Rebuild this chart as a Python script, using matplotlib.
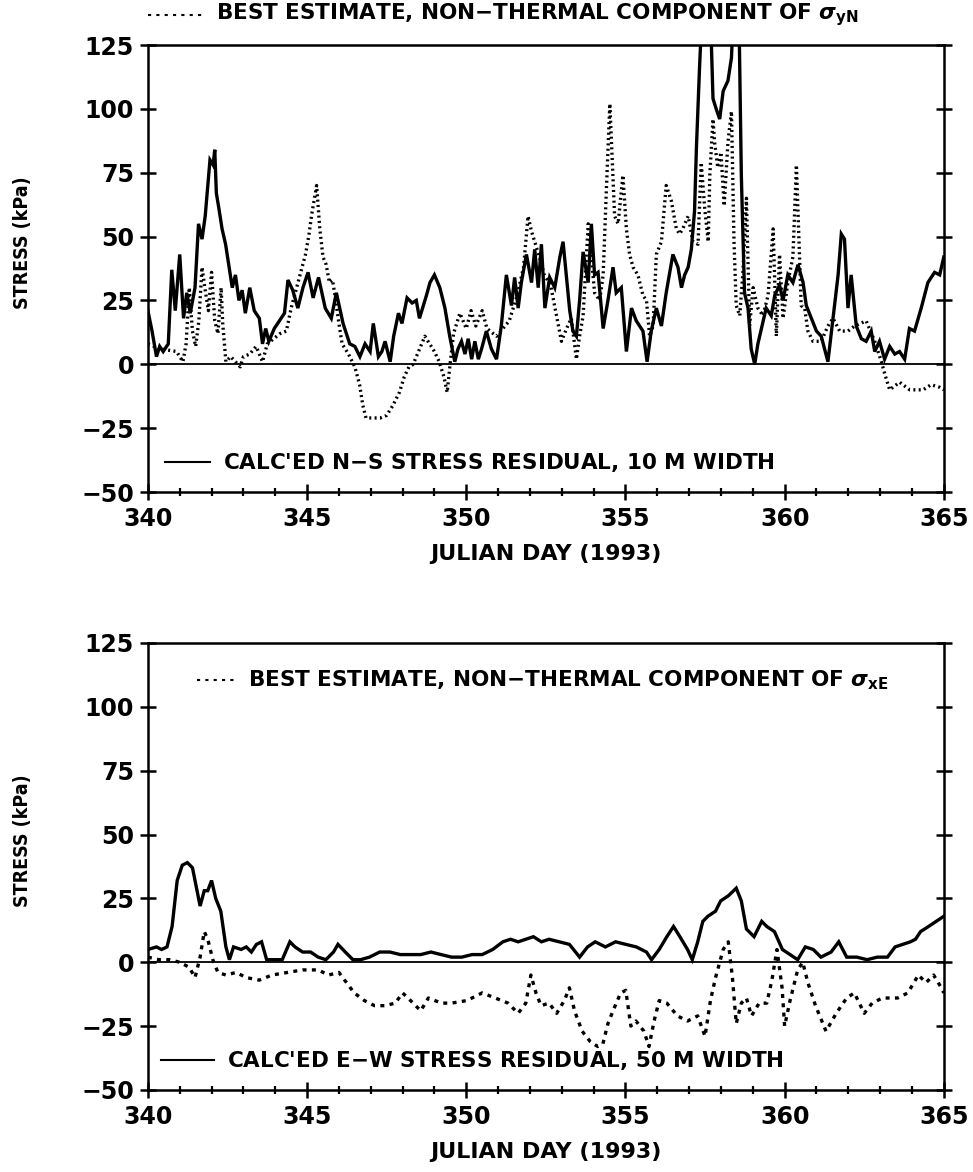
import matplotlib.pyplot as plt
import numpy as np

plt.rcParams['font.family'] = ['DejaVu Sans']
plt.rcParams['font.weight'] = 'bold'
plt.rcParams['mathtext.fontset'] = 'dejavusans'

# N-S residual (solid), top panel
ns_day = [340.0, 340.13, 340.27, 340.37, 340.48, 340.64, 340.75, 340.86, 341.0, 341.12,
          341.22, 341.33, 341.48, 341.59, 341.7, 341.8, 341.95, 342.05, 342.1, 342.15,
          342.23, 342.33, 342.44, 342.54, 342.65, 342.75, 342.86, 342.96, 343.06, 343.2,
          343.34, 343.5, 343.6, 343.7, 343.8, 343.97, 344.13, 344.29, 344.4, 344.55,
          344.71, 344.87, 345.03, 345.19, 345.36, 345.57, 345.76, 345.92, 346.13, 346.34,
          346.5, 346.66, 346.82, 346.98, 347.08, 347.24, 347.35, 347.45, 347.61, 347.72,
          347.87, 347.98, 348.14, 348.3, 348.43, 348.53, 348.75, 348.86, 349.0, 349.17,
          349.33, 349.48, 349.64, 349.74, 349.85, 349.96, 350.06, 350.17, 350.27, 350.38,
          350.48, 350.63, 350.79, 350.95, 351.1, 351.26, 351.42, 351.52, 351.63, 351.73,
          351.89, 352.05, 352.15, 352.26, 352.36, 352.47, 352.62, 352.78, 352.94, 353.04,
          353.14, 353.25, 353.35, 353.46, 353.56, 353.67, 353.83, 353.93, 354.03, 354.14,
          354.3, 354.45, 354.61, 354.71, 354.87, 355.03, 355.19, 355.34, 355.55, 355.68,
          355.81, 355.97, 356.13, 356.28, 356.49, 356.65, 356.76, 356.86, 356.97, 357.07,
          357.17, 357.23, 357.33, 357.45, 357.65, 357.7, 357.75, 357.85, 357.96, 358.07,
          358.22, 358.33, 358.43, 358.55, 358.64, 358.74, 358.85, 358.95, 359.06, 359.16,
          359.27, 359.42, 359.58, 359.69, 359.84, 359.95, 360.1, 360.26, 360.42, 360.58,
          360.68, 360.84, 361.0, 361.15, 361.36, 361.52, 361.68, 361.78, 361.88, 361.99,
          362.09, 362.25, 362.41, 362.56, 362.72, 362.83, 362.98, 363.14, 363.3, 363.46,
          363.61, 363.77, 363.92, 364.08, 364.29, 364.5, 364.71, 364.87, 365.0]
ns_val = [21, 13, 3, 7, 5, 8, 37, 21, 43, 18,
          28, 20, 30, 55, 49, 58, 80, 78, 84, 67,
          61, 53, 47, 39, 30, 35, 25, 29, 20, 30,
          21, 18, 8, 14, 9, 14, 17, 20, 33, 29,
          22, 30, 36, 26, 34, 22, 18, 28, 16, 8,
          7, 3, 8, 5, 16, 3, 5, 9, 1, 11,
          20, 16, 26, 24, 25, 18, 27, 32, 35, 30,
          22, 11, 1, 6, 9, 4, 10, 2, 9, 2,
          6, 13, 6, 2, 15, 35, 23, 34, 22, 32,
          43, 32, 45, 30, 47, 22, 34, 30, 42, 48,
          35, 21, 13, 11, 25, 44, 32, 55, 35, 36,
          14, 25, 38, 28, 30, 5, 22, 17, 13, 1,
          13, 22, 15, 28, 43, 38, 30, 35, 38, 45,
          60, 85, 117, 150, 140, 125, 104, 100, 96, 107,
          111, 120, 150, 150, 74, 28, 22, 6, 0, 8,
          14, 22, 19, 27, 31, 25, 35, 32, 39, 32,
          23, 18, 13, 11, 1, 18, 35, 51, 49, 22,
          35, 15, 10, 9, 13, 5, 9, 2, 7, 4,
          5, 2, 14, 13, 22, 32, 36, 35, 42]

# best estimate, non-thermal sigma_yN (dotted), top panel
yn_day = [340.0, 340.4, 340.9, 341.1, 341.2, 341.3, 341.4, 341.5, 341.6, 341.7,
          341.8, 341.9, 342.0, 342.1, 342.2, 342.3, 342.35, 342.45, 342.6, 342.9,
          343.0, 343.2, 343.4, 343.6, 343.75, 343.95, 344.15, 344.35, 344.5, 344.65,
          344.8, 344.95, 345.05, 345.15, 345.3, 345.4, 345.5, 345.6, 345.7, 345.8,
          345.9, 346.0, 346.1, 346.3, 346.5, 346.65, 346.75, 346.85, 347.0, 347.3,
          347.5, 347.7, 347.9, 348.05, 348.2, 348.33, 348.5, 348.7, 348.85, 349.0,
          349.15, 349.3, 349.4, 349.5, 349.6, 349.8, 350.0, 350.15, 350.3, 350.5,
          350.65, 350.95, 351.15, 351.35, 351.6, 351.8, 351.94, 352.05, 352.15, 352.3,
          352.45, 352.65, 352.99, 353.15, 353.3, 353.46, 353.56, 353.67, 353.83, 353.93,
          354.03, 354.19, 354.3, 354.4, 354.51, 354.56, 354.66, 354.77, 354.92, 355.03,
          355.13, 355.24, 355.39, 355.55, 355.66, 355.76, 355.87, 355.97, 356.13, 356.28,
          356.44, 356.6, 356.7, 356.8, 356.97, 357.12, 357.28, 357.38, 357.49, 357.6,
          357.65, 357.75, 357.8, 357.9, 358.0, 358.1, 358.22, 358.33, 358.41, 358.48,
          358.59, 358.69, 358.8, 358.9, 359.01, 359.16, 359.32, 359.48, 359.64, 359.74,
          359.84, 359.95, 360.1, 360.26, 360.37, 360.52, 360.63, 360.73, 360.89, 361.15,
          361.36, 361.52, 361.73, 361.99, 362.2, 362.56, 362.83, 363.04, 363.15, 363.3,
          363.61, 363.93, 364.35, 364.6, 364.87, 365.0]
yn_val = [8, 6, 5, 1, 8, 30, 13, 7, 17, 38,
          29, 21, 36, 17, 12, 30, 16, 1, 3, -1,
          3, 4, 7, 1, 8, 10, 12, 13, 22, 29,
          36, 43, 50, 59, 70, 53, 42, 39, 32, 33,
          25, 16, 8, 4, -1, -8, -16, -21, -21, -21,
          -20, -16, -11, -5, -1, 0, 5, 11, 8, 5,
          1, -5, -11, 1, 12, 20, 14, 21, 15, 21,
          14, 11, 14, 17, 27, 38, 58, 52, 48, 42,
          35, 31, 9, 14, 18, 2, 11, 19, 55, 42,
          28, 25, 35, 68, 102, 87, 58, 55, 74, 53,
          43, 38, 35, 27, 25, 11, 15, 43, 48, 70,
          64, 53, 51, 53, 58, 48, 47, 79, 61, 48,
          74, 96, 87, 77, 83, 62, 87, 99, 48, 23,
          19, 36, 65, 15, 30, 22, 19, 27, 53, 11,
          43, 18, 32, 42, 78, 23, 22, 13, 9, 9,
          15, 18, 13, 13, 15, 17, 9, 1, -4, -10,
          -7, -10, -10, -8, -9, -10]

# E-W residual (solid), bottom panel
ew_day = [340.0, 340.27, 340.43, 340.6, 340.76, 340.92, 341.08, 341.24, 341.4, 341.64,
          341.77, 341.88, 342.0, 342.13, 342.29, 342.45, 342.56, 342.69, 342.93, 343.09,
          343.25, 343.41, 343.57, 343.73, 343.97, 344.22, 344.46, 344.62, 344.86, 345.11,
          345.35, 345.59, 345.83, 345.97, 346.2, 346.44, 346.68, 346.96, 347.28, 347.6,
          347.93, 348.25, 348.57, 348.89, 349.21, 349.54, 349.86, 350.18, 350.5, 350.83,
          351.15, 351.39, 351.63, 351.87, 352.11, 352.36, 352.6, 352.92, 353.24, 353.56,
          353.81, 354.05, 354.37, 354.69, 355.01, 355.34, 355.66, 355.82, 356.06, 356.3,
          356.51, 356.71, 356.95, 357.1, 357.27, 357.43, 357.59, 357.83, 357.99, 358.23,
          358.48, 358.64, 358.8, 359.04, 359.28, 359.44, 359.68, 359.93, 360.17, 360.41,
          360.65, 360.9, 361.14, 361.46, 361.7, 361.95, 362.27, 362.59, 362.91, 363.23,
          363.47, 363.71, 363.95, 364.11, 364.27, 364.52, 364.76, 365.0]
ew_val = [5, 6, 5, 6, 14, 32, 38, 39, 37, 22,
          28, 28, 32, 25, 20, 6, 1, 6, 5, 6,
          4, 7, 8, 1, 1, 1, 8, 6, 4, 4,
          2, 1, 4, 7, 4, 1, 1, 2, 4, 4,
          3, 3, 3, 4, 3, 2, 2, 3, 3, 5,
          8, 9, 8, 9, 10, 8, 9, 8, 7, 2,
          6, 8, 6, 8, 7, 6, 4, 1, 5, 10,
          14, 10, 5, 1, 8, 16, 18, 20, 24, 26,
          29, 24, 13, 10, 16, 14, 12, 5, 3, 1,
          6, 5, 2, 4, 8, 2, 2, 1, 2, 2,
          6, 7, 8, 9, 12, 14, 16, 18]

# best estimate, non-thermal sigma_xE (dotted), bottom panel
xe_day = [340.0, 340.35, 340.68, 341.0, 341.3, 341.48, 341.64, 341.77, 341.88, 342.04,
          342.2, 342.45, 342.77, 343.09, 343.5, 343.9, 344.38, 344.86, 345.35, 345.67,
          346.0, 346.24, 346.48, 346.8, 347.12, 347.45, 347.77, 348.0, 348.25, 348.57,
          348.81, 349.22, 349.54, 350.02, 350.5, 350.91, 351.31, 351.63, 351.87, 352.03,
          352.19, 352.35, 352.6, 352.84, 353.08, 353.24, 353.4, 353.64, 353.89, 354.13,
          354.29, 354.45, 354.61, 354.85, 355.01, 355.17, 355.33, 355.58, 355.74, 355.9,
          356.06, 356.3, 356.63, 356.95, 357.27, 357.5, 357.67, 357.83, 358.07, 358.23,
          358.36, 358.48, 358.64, 358.8, 358.96, 359.2, 359.44, 359.6, 359.76, 359.92,
          360.0, 360.17, 360.41, 360.57, 360.73, 360.97, 361.3, 361.62, 361.95, 362.19,
          362.5, 362.75, 363.07, 363.55, 363.87, 364.2, 364.44, 364.68, 364.92, 365.0]
xe_val = [2, 1, 1, 0, -2, -6, 2, 12, 9, 1,
          -4, -5, -4, -6, -7, -5, -4, -3, -3, -5,
          -4, -8, -12, -15, -17, -17, -16, -12, -15, -19,
          -14, -16, -16, -15, -12, -14, -16, -20, -16, -5,
          -12, -17, -16, -20, -15, -10, -19, -27, -31, -33,
          -32, -24, -19, -12, -11, -25, -23, -27, -33, -23,
          -15, -16, -21, -23, -21, -29, -15, -6, 5, 8,
          -6, -24, -16, -14, -21, -16, -16, -7, 5, -10,
          -25, -15, -3, 0, -8, -17, -27, -20, -14, -12,
          -20, -16, -14, -14, -12, -5, -8, -5, -10, -12]

xticks = [340, 345, 350, 355, 360, 365]
yticks = [-50, -25, 0, 25, 50, 75, 100, 125]

fig = plt.figure(figsize=(9.73, 11.72), dpi=100)
ax1 = fig.add_axes([0.152, 0.5802, 0.818, 0.3814])
ax2 = fig.add_axes([0.152, 0.0700, 0.818, 0.3814])

panels = [
    (ax1, ns_day, ns_val, yn_day, yn_val, (0, (0.6, 1.0)),
     r"BEST ESTIMATE, NON$-$THERMAL COMPONENT OF $\sigma_{\mathbf{yN}}$",
     "CALC'ED N$-$S STRESS RESIDUAL, 10 M WIDTH", (0.0, 0.072, 1.067), (0.021, 0.078, 0.067)),
    (ax2, ew_day, ew_val, xe_day, xe_val, (0, (1.2, 1.6)),
     r"BEST ESTIMATE, NON$-$THERMAL COMPONENT OF $\sigma_{\mathbf{xE}}$",
     "CALC'ED E$-$W STRESS RESIDUAL, 50 M WIDTH", (0.062, 0.112, 0.917), (0.016, 0.083, 0.067)),
]

for ax, d1, v1, d2, v2, dash, lab_dot, lab_sol, pos_dot, pos_sol in panels:
    ax.axhline(0, color='black', lw=1.3, zorder=1)
    ax.plot(d1, v1, color='black', lw=2.4, solid_joinstyle='miter', zorder=3)
    ax.plot(d2, v2, color='black', lw=2.4, linestyle=dash, zorder=2)

    ax.set_xlim(340, 365)
    ax.set_ylim(-50, 125)
    ax.set_xticks(xticks)
    ax.set_xticks(np.arange(340, 366, 1), minor=True)
    ax.set_yticks(yticks)
    ax.tick_params(axis='x', which='major', direction='inout', length=12, width=1.8,
                   labelsize=17, pad=5, top=False)
    ax.tick_params(axis='x', which='minor', direction='inout', length=6, width=1.6, top=False)
    ax.tick_params(axis='y', which='major', direction='inout', length=12, width=1.8,
                   labelsize=17, pad=4, left=True, right=True)
    for lbl in ax.get_xticklabels() + ax.get_yticklabels():
        lbl.set_fontweight('bold')
    for s in ax.spines.values():
        s.set_linewidth(1.8)

    ax.set_xlabel('JULIAN DAY (1993)', fontsize=16, fontweight='bold', labelpad=9)
    ax.set_ylabel('STRESS (kPa)', fontsize=14, fontweight='bold', fontstretch='condensed')
    ax.yaxis.set_label_coords(-0.145, 0.557)

    # legend entries drawn by hand
    x0, x1, yy = pos_dot
    ax.plot([x0, x1], [yy, yy], transform=ax.transAxes, color='black', lw=1.5,
            linestyle=(0, (1.5, 2.5)), clip_on=False)
    ax.text(x1 + 0.014, yy, lab_dot, transform=ax.transAxes, fontsize=15.5,
            fontweight='bold', va='center', ha='left')
    x0, x1, yy = pos_sol
    ax.plot([x0, x1], [yy, yy], transform=ax.transAxes, color='black', lw=1.5, clip_on=False)
    ax.text(x1 + 0.016, yy, lab_sol, transform=ax.transAxes, fontsize=15.5,
            fontweight='bold', va='center', ha='left')

plt.savefig('out.png', dpi=100)
